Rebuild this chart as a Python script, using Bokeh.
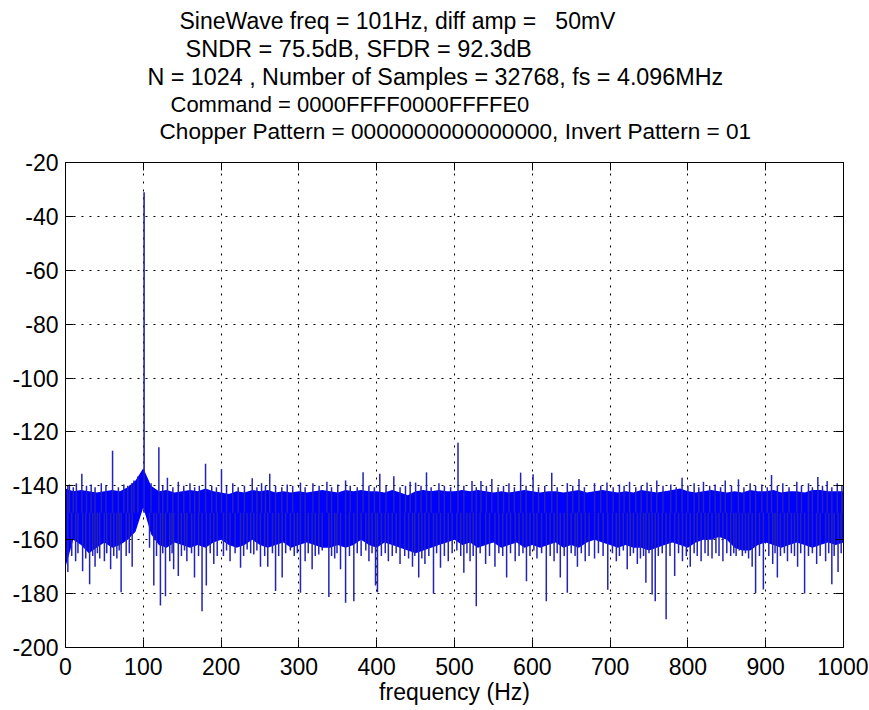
from bokeh.plotting import figure
from bokeh.models import Range1d, FixedTicker, LinearAxis, Title
from bokeh.embed import file_html
from bokeh.resources import INLINE

# ---------------- data ----------------
title_lines = [
    "SineWave freq = 101Hz, diff amp = \u00a0\u00a050mV",
    "SNDR = 75.5dB, SFDR = 92.3dB",
    "N = 1024 , Number of Samples = 32768, fs = 4.096MHz",
    "Command = 0000FFFF0000FFFFE0",
    "Chopper Pattern = 0000000000000000, Invert Pattern = 01",
]
x_label = "frequency (Hz)"

tone_freq = [101]
tone_db = [-31]

band_freq = list(range(0, 1001, 10))
band_top = [
    -141, -142, -141.5, -142, -142.5, -142, -141.5, -142, -140.5, -138,
    -133.5, -140, -142, -141.5, -142.5, -142, -141.5, -142, -141, -142,
    -142.5, -143, -142, -142.5, -141.5, -142, -141.5, -142.5, -142, -142.5,
    -142, -142.5, -142, -141.5, -142, -142.5, -141.5, -142, -141.5, -142,
    -142, -142.5, -141.5, -142.5, -143.5, -142, -141.5, -142, -141.5, -142,
    -142, -141.5, -142, -141.5, -142, -142.5, -142, -142.5, -142, -141.5,
    -142, -142.5, -142, -142, -142.5, -142, -141.5, -142.5, -142, -141.5,
    -142, -142.5, -142, -142.5, -141.5, -142, -142.5, -142, -141.5, -141,
    -142, -142.5, -142, -141.5, -142, -142.5, -142, -142.5, -141.5, -142,
    -142, -141.5, -142.5, -142, -142, -142.5, -141.5, -141.5, -142, -142,
    -142,
]
band_bot = [
    -170, -160, -162, -165, -163, -161, -163, -162, -160, -157,
    -148, -158, -162, -163, -161, -162, -163, -162, -163, -161,
    -160, -162, -163, -162, -160, -162, -163, -162, -161, -163,
    -162, -161, -162, -163, -163, -162, -163, -162, -160, -162,
    -163, -161, -162, -163, -164, -165, -164, -163, -162, -161,
    -160, -162, -161, -163, -162, -161, -163, -162, -161, -163,
    -162, -163, -162, -161, -163, -162, -163, -161, -160, -161,
    -162, -163, -162, -163, -163, -164, -163, -162, -161, -162,
    -163, -161, -160, -160, -159, -160, -163, -164, -164, -162,
    -161, -162, -163, -162, -161, -162, -163, -162, -161, -162,
    -161,
]

# upward spikes above the noise band
up_freq = [3, 5, 10, 14, 21, 27, 33, 38, 46, 52, 60.5, 68, 75, 80, 85, 88, 93,
           110, 120, 125, 131, 138, 145, 152, 160, 166, 172, 180, 188, 194,
           200.5, 207, 215, 222, 230, 240, 246, 252, 257, 262.5, 270, 278, 285,
           292, 302, 308, 318, 326, 336, 342, 350, 360, 366, 375, 382.5, 390,
           397, 404, 412, 422, 430, 437, 443, 450, 457, 464, 470, 480, 487, 495,
           504.5, 512, 522.5, 528, 534, 541, 548, 556, 563, 570, 577, 585, 592,
           601, 608, 616, 625, 632, 645, 652, 660, 667, 680, 688, 696, 704, 712,
           718, 725, 733, 740, 747.5, 753, 760, 768, 778, 785, 792.5, 800, 808,
           814, 820, 828, 835, 842, 848, 856, 865, 872, 880, 887, 895, 902,
           907.5, 915, 922, 930, 940, 946, 955, 960, 967, 973, 979, 985, 992, 998]
up_db = [-140, -139.5, -140.5, -139, -135.5, -140, -139.5, -140.5, -139, -140,
         -127, -140.5, -139.5, -140, -139, -138, -136.5,
         -139, -125.7, -140, -137, -140.5, -138.5, -140, -139, -140.5, -140,
         -131.8, -140, -140.5,
         -133.8, -140, -139, -140.5, -140, -137.2, -140.5, -139, -140, -135.5,
         -140, -140.5, -139.5,
         -140, -138.8, -140.5, -139, -140, -138.5, -140.5, -139.5, -138, -140, -140.5,
         -135, -140,
         -140.5, -135.5, -140, -136.4, -140.5, -140, -138.5, -138.8, -140, -135,
         -140.5, -139, -140, -140.5,
         -124, -140, -138.2, -140.5, -138.2, -140, -137.5, -140.5, -140, -139,
         -140.5, -135.1, -140,
         -135.7, -140.5, -140, -135.1, -140.5, -139, -140, -137.5, -140.5, -139,
         -140, -138.8, -140.5, -139.5,
         -140, -138.5, -140.5, -140, -138.8, -140.5, -138, -140, -139.5, -140.5,
         -137, -140, -139,
         -140.5, -138.5, -140, -139.5, -140.5, -138, -140, -137.6, -140.5, -139,
         -140, -139.5, -140.5,
         -136, -140, -139, -140.5, -138.5, -140, -139, -140.5, -136.7, -140,
         -138.2, -140.5, -139, -140]

# downward spikes below the noise band
dn_freq = [3, 8, 13, 16, 22, 26, 31, 35, 38, 41, 44, 50, 53, 58, 62, 66, 69,
           71.5, 78, 82, 85.7, 108, 113.5, 117, 122, 125, 128.5, 134, 137, 139,
           145, 149, 153, 156, 162, 165.8, 171, 175.5, 181, 186, 190.6, 195,
           203, 207, 211.5, 218, 225, 229, 233.5, 238, 242, 246, 250.6, 256,
           260, 266, 270, 274, 278.5, 283, 289, 294, 298, 302, 308, 312, 317,
           321, 325.5, 330, 338.5, 342, 346, 349, 353.5, 360, 365, 370.6, 375,
           380, 386, 390, 394, 398.5, 401, 406, 411, 415, 420, 425, 430, 436,
           441, 446, 449, 454, 458, 462, 467, 473, 477, 482, 487, 492, 497,
           503, 508, 512, 516, 520, 524, 528, 533, 540, 545, 552, 557, 562,
           567, 572, 578, 583, 588, 592.5, 597, 602, 606, 612, 618, 623, 628,
           632, 636, 641, 645, 650, 655, 658, 663, 668, 673, 680, 685, 691,
           697, 703, 708, 712, 717, 722, 726, 730, 735, 739, 743, 746, 750,
           754, 758, 762, 767, 772, 777, 783, 788, 793, 798, 803, 808, 812,
           817, 822, 826, 831, 836, 840, 845, 850, 855, 859, 862, 866, 870,
           874, 878, 882.6, 887, 892, 897, 904, 909, 912, 915, 919, 924, 928,
           933, 937, 941, 945, 950, 955, 960, 965.5, 970, 977, 981, 985, 988,
           993, 997]
dn_db = [-172, -166, -168, -165, -171.7, -167, -176.5, -166, -170, -165, -167,
         -168, -165, -171, -166, -167, -164, -179.5, -166, -165, -170, -163,
         -177, -166, -184.4, -165, -181, -168, -165, -171, -173.5, -166, -164,
         -168, -165, -174, -166, -186.5, -177, -165, -169, -166, -166, -164,
         -168, -165, -170.4, -166, -163.6, -165, -165.5, -164, -170, -166,
         -170, -165, -179, -166, -174, -165, -164, -166, -165, -179.7, -168,
         -165, -171, -166, -165.5, -164, -181.3, -166, -167, -165, -171,
         -183.4, -166, -182.8, -165, -166, -164, -168, -165, -177, -179.5,
         -166, -165, -168, -166, -165, -169, -166, -167, -170, -166, -174,
         -167, -169, -166, -180, -165, -170.4, -166, -168, -165, -164, -166,
         -172.3, -165, -168, -166, -184.7, -165, -169, -166, -170, -165, -166,
         -174, -165, -168, -166, -165, -175.4, -166, -164, -167, -165, -182.8,
         -166, -168, -165, -174, -166, -179.7, -165, -166, -170, -165, -168,
         -166, -167, -165, -166, -178.6, -165, -168, -166, -164, -171, -166,
         -165, -169, -167, -166, -176, -165, -180.3, -182.8, -166, -165,
         -189.5, -166, -173.5, -165, -168, -166, -170, -165, -166, -168,
         -165, -166, -167, -165, -166, -168, -165, -166, -165, -166, -164,
         -166, -165, -167, -170, -179.8, -166, -178.5, -166, -169, -165,
         -174, -166, -165, -168, -165, -166, -170, -165, -180, -166, -165,
         -169, -166, -168, -165, -176.5, -166, -172, -165, -168, -166, -181.2,
         -166]

x_ticks = list(range(0, 1001, 100))
x_tick_labels = ["0", "100", "200", "300", "400", "500", "600", "700", "800", "900", "1000"]
y_ticks = list(range(-200, -19, 20))
y_tick_labels = ["-200", "-180", "-160", "-140", "-120", "-100", "-80", "-60", "-40", "-20"]

# ---------------- figure ----------------
FONT = "Liberation Sans"
FS = "23px"
BAND = "#0000ff"
SPIKE = "#2323b4"

W, H = 868, 709
L, T = 65, 162
R = W - 843
B = H - 647

p = figure(width=W, height=H, output_backend="svg", toolbar_location=None,
           x_range=Range1d(0, 1000), y_range=Range1d(-200, -20),
           min_border_left=L, min_border_right=R, min_border_top=T, min_border_bottom=B)
p.background_fill_color = "white"
p.border_fill_color = "white"
p.outline_line_color = "black"
p.outline_line_width = 1

for ax in (p.xaxis[0], p.yaxis[0]):
    ax.major_tick_in = 8
    ax.major_tick_out = 0
    ax.minor_tick_in = 0
    ax.minor_tick_out = 0
    ax.axis_line_color = "black"
    ax.major_tick_line_color = "black"
    ax.major_label_text_font = FONT
    ax.major_label_text_font_size = FS
    ax.major_label_text_color = "black"

p.xaxis[0].major_label_standoff = 10
p.yaxis[0].major_label_standoff = 7
p.xaxis[0].ticker = FixedTicker(ticks=x_ticks)
p.xaxis[0].major_label_overrides = {v: s for v, s in zip(x_ticks, x_tick_labels)}
p.yaxis[0].ticker = FixedTicker(ticks=y_ticks)
p.yaxis[0].major_label_overrides = {v: s for v, s in zip(y_ticks, y_tick_labels)}
p.xaxis[0].axis_label = x_label
p.xaxis[0].axis_label_text_font = FONT
p.xaxis[0].axis_label_text_font_size = FS
p.xaxis[0].axis_label_text_font_style = "normal"
p.xaxis[0].axis_label_text_color = "black"
p.xaxis[0].axis_label_standoff = 1

top_ax = LinearAxis(ticker=FixedTicker(ticks=x_ticks),
                    major_label_overrides={v: "" for v in x_ticks})
right_ax = LinearAxis(ticker=FixedTicker(ticks=y_ticks),
                      major_label_overrides={v: "" for v in y_ticks})
for ax in (top_ax, right_ax):
    ax.major_tick_in = 8
    ax.major_tick_out = 0
    ax.minor_tick_in = 0
    ax.minor_tick_out = 0
    ax.axis_line_color = "black"
    ax.major_label_text_font_size = "1px"
    ax.major_label_standoff = 0
p.add_layout(top_ax, "above")
p.add_layout(right_ax, "right")

# blank spacer between the frame and the last title line
p.add_layout(Title(text=" ", text_font=FONT, text_font_size="10px", standoff=6), "above")

for g, t in ((p.xgrid[0], x_ticks), (p.ygrid[0], y_ticks)):
    g.ticker = FixedTicker(ticks=t)
    g.grid_line_color = "black"
    g.grid_line_dash = "2 6"
    g.grid_line_width = 1

# noise band
p.varea(x=band_freq, y1=band_bot, y2=band_top, fill_color=BAND, fill_alpha=1.0)

# spikes
base = -150
p.segment(x0=up_freq, x1=up_freq, y0=[base] * len(up_freq), y1=up_db,
          line_color=SPIKE, line_width=1.5)
p.segment(x0=dn_freq, x1=dn_freq, y0=[base] * len(dn_freq), y1=dn_db,
          line_color=SPIKE, line_width=1.5)
p.segment(x0=tone_freq, x1=tone_freq, y0=[base] * len(tone_freq), y1=tone_db,
          line_color=SPIKE, line_width=1.6)

# title lines: horizontal offset from the frame's left edge, stacked upward
title_offsets = [114, 120, 82, 105, 94]
title_sizes = ["23px", "23.5px", "23.3px", "22px", "22.6px"]
for txt, off, fs in reversed(list(zip(title_lines, title_offsets, title_sizes))):
    p.add_layout(Title(text=txt, align="left", offset=off, standoff=0,
                       text_font=FONT, text_font_size=fs, text_font_style="normal",
                       text_color="black"), "above")

open("out.html", "w").write(file_html(p, INLINE))
